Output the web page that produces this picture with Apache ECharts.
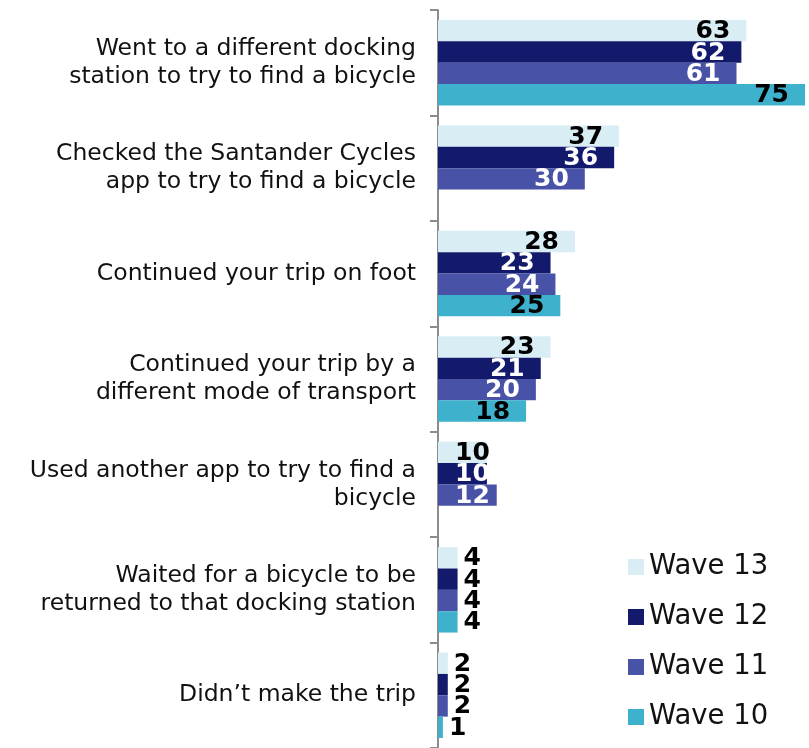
<!DOCTYPE html>
<html>
<head>
<meta charset="utf-8">
<script src="https://cdn.jsdelivr.net/npm/echarts@6/dist/echarts.min.js"></script>
<style>
  html, body { margin: 0; padding: 0; background: #fff; }
  #main { width: 809px; height: 748px; }
</style>
</head>
<body>
<div id="main"></div>
<script>
var categories = [
    'Went to a different docking\nstation to try to find a bicycle',
    'Checked the Santander Cycles\napp to try to find a bicycle',
    'Continued your trip on foot',
    'Continued your trip by a\ndifferent mode of transport',
    'Used another app to try to find a\nbicycle',
    'Waited for a bicycle to be\nreturned to that docking station',
    'Didn\u2019t make the trip'
];
var seriesNames = ['Wave 13', 'Wave 12', 'Wave 11', 'Wave 10'];
var wave13 = [63, 37, 28, 23, 10, 4, 2];
var wave12 = [62, 36, 23, 21, 10, 4, 2];
var wave11 = [61, 30, 24, 20, 12, 4, 2];
var wave10 = [75, null, 25, 18, null, 4, 1];

var colors = ['#d8eef4', '#131a6b', '#4852a6', '#3eb2cd'];
var labelColors = ['#000', '#fff', '#fff', '#000'];

var myChart = echarts.init(document.getElementById('main'));

function buildData(values, idx) {
    return values.map(function (v) {
        if (v == null) return '-';
        var lab;
        if (v <= 5) {
            lab = { position: 'right', distance: 6, color: '#000' };
        } else if (v <= 12) {
            lab = { position: 'insideLeft', distance: 17, color: labelColors[idx] };
        } else {
            lab = { position: 'insideRight', distance: 16, color: labelColors[idx] };
        }
        return { value: v, label: lab };
    });
}

var allValues = [wave13, wave12, wave11, wave10];

var series = allValues.map(function (vals, i) {
    return {
        name: seriesNames[i],
        type: 'bar',
        data: buildData(vals, i),
        itemStyle: { color: colors[i] },
        barGap: '0%',
        barCategoryGap: '19%',
        label: {
            show: true,
            fontFamily: 'DejaVu Sans',
            fontWeight: 'bold',
            fontSize: 25,
            offset: [0, 1]
        }
    };
});

var option = {
    animation: false,
    backgroundColor: '#fff',
    legend: {
        data: seriesNames,
        orient: 'vertical',
        left: 628,
        top: 553,
        padding: 0,
        itemWidth: 16,
        itemHeight: 16,
        itemGap: 22,
        icon: 'rect',
        textStyle: { fontFamily: 'DejaVu Sans', fontSize: 27.5, color: '#111' }
    },
    grid: {
        left: 438,
        right: 4,
        top: 10,
        height: 741
    },
    xAxis: {
        type: 'value',
        min: 0,
        max: 75,
        show: false
    },
    yAxis: {
        type: 'category',
        inverse: true,
        data: categories,
        axisLine: { show: true, lineStyle: { color: '#8c8c8c', width: 2 } },
        axisTick: { show: true, length: 8, lineStyle: { color: '#8c8c8c', width: 2 } },
        axisLabel: {
            margin: 22,
            fontFamily: 'DejaVu Sans',
            fontSize: 23.5,
            lineHeight: 28,
            color: '#111',
            align: 'right'
        }
    },
    series: series
};

myChart.setOption(option);
</script>
</body>
</html>
